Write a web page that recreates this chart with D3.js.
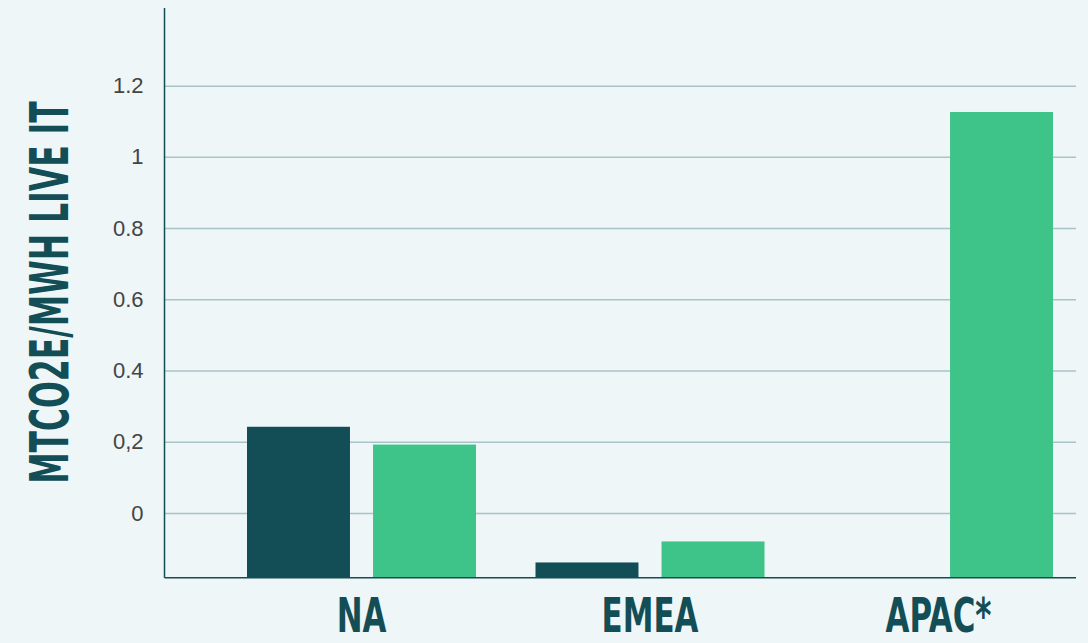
<!DOCTYPE html>
<html>
<head>
<meta charset="utf-8">
<script src="https://cdn.jsdelivr.net/npm/d3@7"></script>
<style>
  html, body { margin: 0; padding: 0; background: #eef6f8; }
  svg { display: block; }
</style>
</head>
<body>
<svg id="chart" width="1088" height="643"></svg>
<script>
const categories = ["NA", "EMEA", "APAC*"];
const seriesNames = ["dark", "green"];
const darkValues = [0.242, -0.139, null];
const greenValues = [0.192, -0.080, 1.126];
const tickValues = [0, 0.2, 0.4, 0.6, 0.8, 1, 1.2];
const tickLabels = ["0", "0,2", "0.4", "0.6", "0.8", "1", "1.2"];
const yTitle = "MTCO2E/MWH LIVE IT";
const colors = { dark: "#134e56", green: "#3ec488" };

const svg = d3.select("#chart");
const W = 1088, H = 643;
svg.append("rect").attr("width", W).attr("height", H).attr("fill", "#eef6f8");

const plotLeft = 164.5, plotRight = 1076, plotBottom = 577.7, plotTop = 8;

const y = d3.scaleLinear().domain([-0.1818, 1.418]).range([plotBottom, plotTop]);
const x0 = d3.scaleBand().domain(categories).range([217.25, 1082.75]).paddingInner(0).paddingOuter(0);
const x1 = d3.scaleBand().domain(seriesNames).range([29.75, 258.75]).paddingInner(0.183).paddingOuter(0);

// gridlines
const grid = svg.append("g")
  .attr("transform", `translate(${plotLeft},0)`)
  .call(d3.axisLeft(y).tickValues(tickValues).tickSize(-(plotRight - plotLeft)).tickFormat(""));
grid.select(".domain").remove();
grid.selectAll(".tick line").attr("stroke", "#a9c4c8").attr("stroke-width", 1.5);

// tick labels
const yAxis = svg.append("g")
  .attr("transform", `translate(${plotLeft},0)`)
  .call(d3.axisLeft(y).tickValues(tickValues).tickSize(0).tickPadding(21)
    .tickFormat((d, i) => tickLabels[i]));
yAxis.select(".domain").remove();
yAxis.selectAll(".tick text")
  .attr("fill", "#444")
  .style("font-family", "'Liberation Sans', Arial, sans-serif")
  .style("font-size", "22px");

// bars
const rows = categories.map((c, i) => ({ cat: c, dark: darkValues[i], green: greenValues[i] }));
const groups = svg.append("g").selectAll("g").data(rows).join("g")
  .attr("transform", d => `translate(${x0(d.cat)},0)`);
groups.selectAll("rect")
  .data(d => seriesNames.map(s => ({ s, v: d[s] })).filter(e => e.v !== null))
  .join("rect")
  .attr("x", e => x1(e.s))
  .attr("width", x1.bandwidth())
  .attr("y", e => y(e.v))
  .attr("height", e => y.range()[0] - y(e.v))
  .attr("fill", e => colors[e.s]);

// axis lines
svg.append("line").attr("x1", plotLeft).attr("x2", plotLeft).attr("y1", plotTop).attr("y2", plotBottom)
  .attr("stroke", "#134e56").attr("stroke-width", 1.5);
svg.append("line").attr("x1", plotLeft).attr("x2", plotRight).attr("y1", plotBottom).attr("y2", plotBottom)
  .attr("stroke", "#134e56").attr("stroke-width", 1.5);

// category labels
svg.append("g").selectAll("text").data(categories).join("text")
  .attr("transform", d => `translate(${x0(d) + x0.bandwidth() / 2},631.5) scale(0.73,1.02)`)
  .attr("text-anchor", "middle")
  .attr("fill", "#134e56")
  .style("font-family", "'Liberation Sans Narrow', 'DejaVu Sans Condensed', sans-serif")
  .style("font-weight", "bold")
  .style("font-size", "47px")
  .text(d => d);

// y title
svg.append("text")
  .attr("transform", "translate(68,292.5) rotate(-90) scale(0.66,1)")
  .attr("text-anchor", "middle")
  .attr("fill", "#134e56")
  .style("font-family", "'Liberation Sans Narrow', 'DejaVu Sans Condensed', sans-serif")
  .style("font-weight", "bold")
  .style("font-size", "53px")
  .text(yTitle);
</script>
</body>
</html>
